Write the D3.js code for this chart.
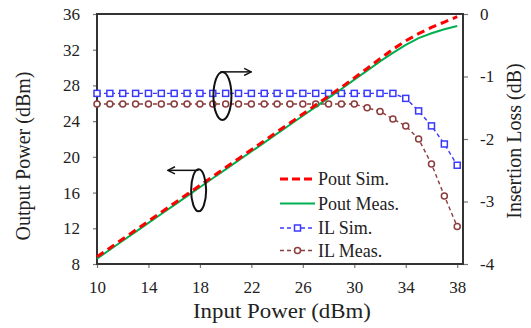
<!DOCTYPE html>
<html>
<head>
<meta charset="utf-8">
<script src="https://cdn.jsdelivr.net/npm/d3@7"></script>
<style>
  html, body { margin: 0; padding: 0; background: #fff; }
  svg { display: block; font-family: "Liberation Serif", "Times New Roman", serif; }
</style>
</head>
<body>
<script>
// input power sweep (dBm)
const inputPower = [10, 11, 12, 13, 14, 15, 16, 17, 18, 19, 20, 21, 22, 23, 24,
  25, 26, 27, 28, 29, 30, 31, 32, 33, 34, 35, 36, 37, 38];

// output power (dBm)
const poutSim = [8.8, 9.8, 10.8, 11.8, 12.8, 13.8, 14.8, 15.8, 16.8, 17.8, 18.8,
  19.8, 20.8, 21.8, 22.8, 23.8, 24.8, 25.8, 26.8, 27.8, 28.85, 29.9, 31.0, 32.05,
  33.0, 33.8, 34.5, 35.1, 35.7];
const poutMeas = [8.6, 9.6, 10.6, 11.6, 12.6, 13.6, 14.6, 15.6, 16.6, 17.6, 18.6,
  19.6, 20.6, 21.6, 22.6, 23.6, 24.6, 25.6, 26.6, 27.6, 28.65, 29.65, 30.7, 31.65,
  32.55, 33.3, 33.85, 34.3, 34.65];

// insertion loss (dB)
const ilSim = [-1.27, -1.27, -1.27, -1.27, -1.27, -1.27, -1.27, -1.27, -1.27, -1.27,
  -1.27, -1.27, -1.27, -1.27, -1.27, -1.27, -1.27, -1.27, -1.27, -1.27, -1.27, -1.27,
  -1.27, -1.27, -1.35, -1.55, -1.79, -2.08, -2.42];
const ilMeas = [-1.44, -1.44, -1.44, -1.44, -1.44, -1.44, -1.44, -1.44, -1.44, -1.44,
  -1.44, -1.44, -1.44, -1.44, -1.44, -1.44, -1.44, -1.44, -1.44, -1.44, -1.44, -1.50,
  -1.56, -1.68, -1.79, -2.00, -2.40, -2.91, -3.40];

// tick labels
const xTicks = [10, 14, 18, 22, 26, 30, 34, 38];
const yLeftTicks = [8, 12, 16, 20, 24, 28, 32, 36];
const yRightTicks = [-4, -3, -2, -1, 0];
const legendLabels = ['Pout Sim.', 'Pout Meas.', 'IL Sim.', 'IL Meas.'];

const width = 531, height = 328;
const margin = { top: 14, right: 68, bottom: 64, left: 97 };

const colors = { sim: '#ff0000', meas: '#00b050', ilSim: '#3a3aff', ilMeas: '#8c3c3c' };

const svg = d3.select('body').append('svg')
  .attr('width', width)
  .attr('height', height);

// scales
const x = d3.scaleLinear().domain([10, 38.45]).range([margin.left, width - margin.right]);
const yL = d3.scaleLinear().domain([8, 36]).range([height - margin.bottom, margin.top]);
const yR = d3.scaleLinear().domain([-4, 0]).range([height - margin.bottom, margin.top]);

const fmt = d => String(d);

// axes
const gx = svg.append('g')
  .attr('transform', `translate(0,${height - margin.bottom})`)
  .call(d3.axisBottom(x).tickValues(xTicks).tickFormat(fmt).tickSize(4).tickPadding(13));
const gyl = svg.append('g')
  .attr('transform', `translate(${margin.left},0)`)
  .call(d3.axisLeft(yL).tickValues(yLeftTicks).tickFormat(fmt).tickSize(4).tickPadding(13));
const gyr = svg.append('g')
  .attr('transform', `translate(${width - margin.right},0)`)
  .call(d3.axisRight(yR).tickValues(yRightTicks).tickFormat(fmt).tickSize(5).tickPadding(12));

[gx, gyl, gyr].forEach(g => {
  g.select('.domain').remove();
  g.selectAll('.tick line').attr('stroke', '#777').attr('stroke-width', 1.2);
  g.selectAll('.tick text')
    .attr('fill', '#222')
    .style('font-size', '17px')
    .style('font-family', '"Liberation Serif", "Times New Roman", serif');
});

// plot frame
svg.append('rect')
  .attr('x', margin.left)
  .attr('y', margin.top)
  .attr('width', width - margin.left - margin.right)
  .attr('height', height - margin.top - margin.bottom)
  .attr('fill', 'none')
  .attr('stroke', '#333')
  .attr('stroke-width', 2);

// axis titles
svg.append('text')
  .attr('x', (margin.left + width - margin.right) / 2 + 2)
  .attr('y', 318)
  .attr('text-anchor', 'middle')
  .attr('textLength', 178)
  .attr('lengthAdjust', 'spacingAndGlyphs')
  .style('font-size', '20px')
  .attr('fill', '#222')
  .text('Input Power (dBm)');
svg.append('text')
  .attr('transform', 'translate(30,156) rotate(-90)')
  .attr('text-anchor', 'middle')
  .style('font-size', '20px')
  .attr('fill', '#222')
  .text('Output Power (dBm)');
svg.append('text')
  .attr('transform', 'translate(521,141) rotate(-90)')
  .attr('text-anchor', 'middle')
  .style('font-size', '20px')
  .attr('fill', '#222')
  .text('Insertion Loss (dB)');

// insertion loss curves with markers
const ilLine = d3.line().x((d, i) => x(inputPower[i])).y(d => yR(d));
svg.append('path').datum(ilMeas)
  .attr('d', ilLine)
  .attr('fill', 'none').attr('stroke', colors.ilMeas)
  .attr('stroke-width', 1.4).attr('stroke-dasharray', '4,3');
svg.append('path').datum(ilSim)
  .attr('d', ilLine)
  .attr('fill', 'none').attr('stroke', colors.ilSim)
  .attr('stroke-width', 1.4).attr('stroke-dasharray', '4,3');

svg.append('g').selectAll('circle').data(ilMeas).enter().append('circle')
  .attr('cx', (d, i) => x(inputPower[i]))
  .attr('cy', d => yR(d))
  .attr('r', 3)
  .attr('fill', '#fff')
  .attr('stroke', colors.ilMeas)
  .attr('stroke-width', 1.5);
svg.append('g').selectAll('rect').data(ilSim).enter().append('rect')
  .attr('x', (d, i) => x(inputPower[i]) - 3)
  .attr('y', d => yR(d) - 3)
  .attr('width', 6)
  .attr('height', 6)
  .attr('fill', '#fff')
  .attr('stroke', colors.ilSim)
  .attr('stroke-width', 1.5);

// output power curves
const poutLine = d3.line().x((d, i) => x(inputPower[i])).y(d => yL(d));
svg.append('path').datum(poutMeas)
  .attr('d', poutLine)
  .attr('fill', 'none').attr('stroke', colors.meas)
  .attr('stroke-width', 2);
svg.append('path').datum(poutSim)
  .attr('d', poutLine)
  .attr('fill', 'none').attr('stroke', colors.sim)
  .attr('stroke-width', 3).attr('stroke-dasharray', '8,5');

// annotation ellipses with arrows pointing at each axis
svg.append('defs').append('marker')
  .attr('id', 'head')
  .attr('viewBox', '0 0 10 10')
  .attr('refX', 9).attr('refY', 5)
  .attr('markerWidth', 9).attr('markerHeight', 9)
  .attr('markerUnits', 'userSpaceOnUse')
  .attr('orient', 'auto')
  .append('path')
  .attr('d', 'M1,1 L9,5 L1,9')
  .attr('fill', 'none').attr('stroke', '#111').attr('stroke-width', 1.6);

const e1 = { cx: x(19.75), cy: yR(-1.31) };
svg.append('ellipse')
  .attr('cx', e1.cx).attr('cy', e1.cy).attr('rx', 9).attr('ry', 24)
  .attr('fill', 'none').attr('stroke', '#111').attr('stroke-width', 2);
svg.append('line')
  .attr('x1', e1.cx - 2).attr('y1', e1.cy - 24)
  .attr('x2', x(22)).attr('y2', e1.cy - 24)
  .attr('stroke', '#111').attr('stroke-width', 1.5)
  .attr('marker-end', 'url(#head)');

const e2 = { cx: x(17.9), cy: yL(16.25) };
svg.append('ellipse')
  .attr('cx', e2.cx).attr('cy', e2.cy).attr('rx', 7.5).attr('ry', 21)
  .attr('fill', 'none').attr('stroke', '#111').attr('stroke-width', 2);
svg.append('line')
  .attr('x1', e2.cx).attr('y1', e2.cy - 20)
  .attr('x2', x(15.5)).attr('y2', e2.cy - 20)
  .attr('stroke', '#111').attr('stroke-width', 1.5)
  .attr('marker-end', 'url(#head)');

// legend
const legend = svg.append('g');
const rowY = [179, 203.5, 228, 250.5];
const styles = [
  { color: colors.sim, w: 3, dash: '8,4' },
  { color: colors.meas, w: 2, dash: null },
  { color: colors.ilSim, w: 1.4, dash: '4,3', mark: 'rect' },
  { color: colors.ilMeas, w: 1.4, dash: '4,3', mark: 'circle' }
];
legendLabels.forEach((label, i) => {
  const s = styles[i];
  const g = legend.append('g').attr('transform', `translate(0,${rowY[i]})`);
  g.append('line')
    .attr('x1', 280).attr('x2', 315)
    .attr('stroke', s.color).attr('stroke-width', s.w)
    .attr('stroke-dasharray', s.dash);
  if (s.mark === 'rect') {
    g.append('rect').attr('x', 294.5).attr('y', -3).attr('width', 6).attr('height', 6)
      .attr('fill', '#fff').attr('stroke', s.color).attr('stroke-width', 1.5);
  } else if (s.mark === 'circle') {
    g.append('circle').attr('cx', 297.5).attr('cy', 0).attr('r', 3)
      .attr('fill', '#fff').attr('stroke', s.color).attr('stroke-width', 1.5);
  }
  g.append('text')
    .attr('x', 318).attr('y', 6)
    .style('font-size', '18px')
    .attr('fill', '#222')
    .text(label);
});
</script>
</body>
</html>
